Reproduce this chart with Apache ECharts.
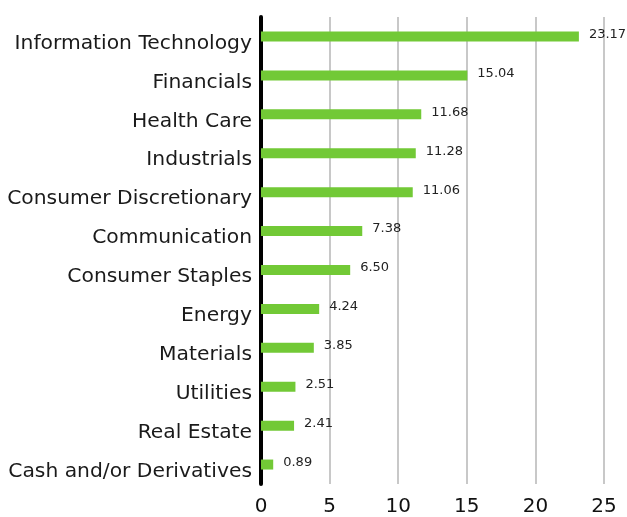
<!DOCTYPE html>
<html>
<head>
<meta charset="utf-8">
<script src="https://cdn.jsdelivr.net/npm/echarts@6/dist/echarts.min.js"></script>
<style>
  html, body { margin: 0; padding: 0; background: #fff; }
  #chart { width: 627px; height: 517px; }
</style>
</head>
<body>
<div id="chart"></div>
<script>
// Sector weights (%)
const sectors = [
  "Information Technology",
  "Financials",
  "Health Care",
  "Industrials",
  "Consumer Discretionary",
  "Communication",
  "Consumer Staples",
  "Energy",
  "Materials",
  "Utilities",
  "Real Estate",
  "Cash and/or Derivatives"
];
const weights = [23.17, 15.04, 11.68, 11.28, 11.06, 7.38, 6.50, 4.24, 3.85, 2.51, 2.41, 0.89];
const xTicks = [0, 5, 10, 15, 20, 25];

const chart = echarts.init(document.getElementById('chart'), null, { renderer: 'canvas' });
const fontFamily = '"DejaVu Sans", sans-serif';

chart.setOption({
  animation: false,
  grid: { left: 261, right: 23, top: 17, bottom: 33, containLabel: false },
  xAxis: {
    type: 'value',
    min: xTicks[0],
    max: xTicks[xTicks.length - 1],
    interval: 5,
    axisLine: { show: false },
    axisTick: { show: false },
    splitLine: { show: true, lineStyle: { color: '#c8c8c8', width: 2 } },
    axisLabel: { color: '#111', fontSize: 20, fontFamily, margin: 13 }
  },
  yAxis: {
    type: 'category',
    data: sectors,
    inverse: true,
    axisLine: { show: true, lineStyle: { color: '#000', width: 4 } },
    axisTick: { show: false },
    axisLabel: {
      color: '#1a1a1a', fontSize: 20.3, fontFamily, margin: 9,
      verticalAlign: 'top', lineHeight: 14
    }
  },
  series: [{
    type: 'bar',
    data: weights,
    barWidth: 10,
    itemStyle: { color: '#72c936' },
    label: {
      show: true,
      position: 'right',
      distance: 10,
      color: '#222',
      fontSize: 13,
      fontFamily,
      offset: [0, -2],
      formatter: p => p.value.toFixed(2)
    }
  }]
});
</script>
</body>
</html>
